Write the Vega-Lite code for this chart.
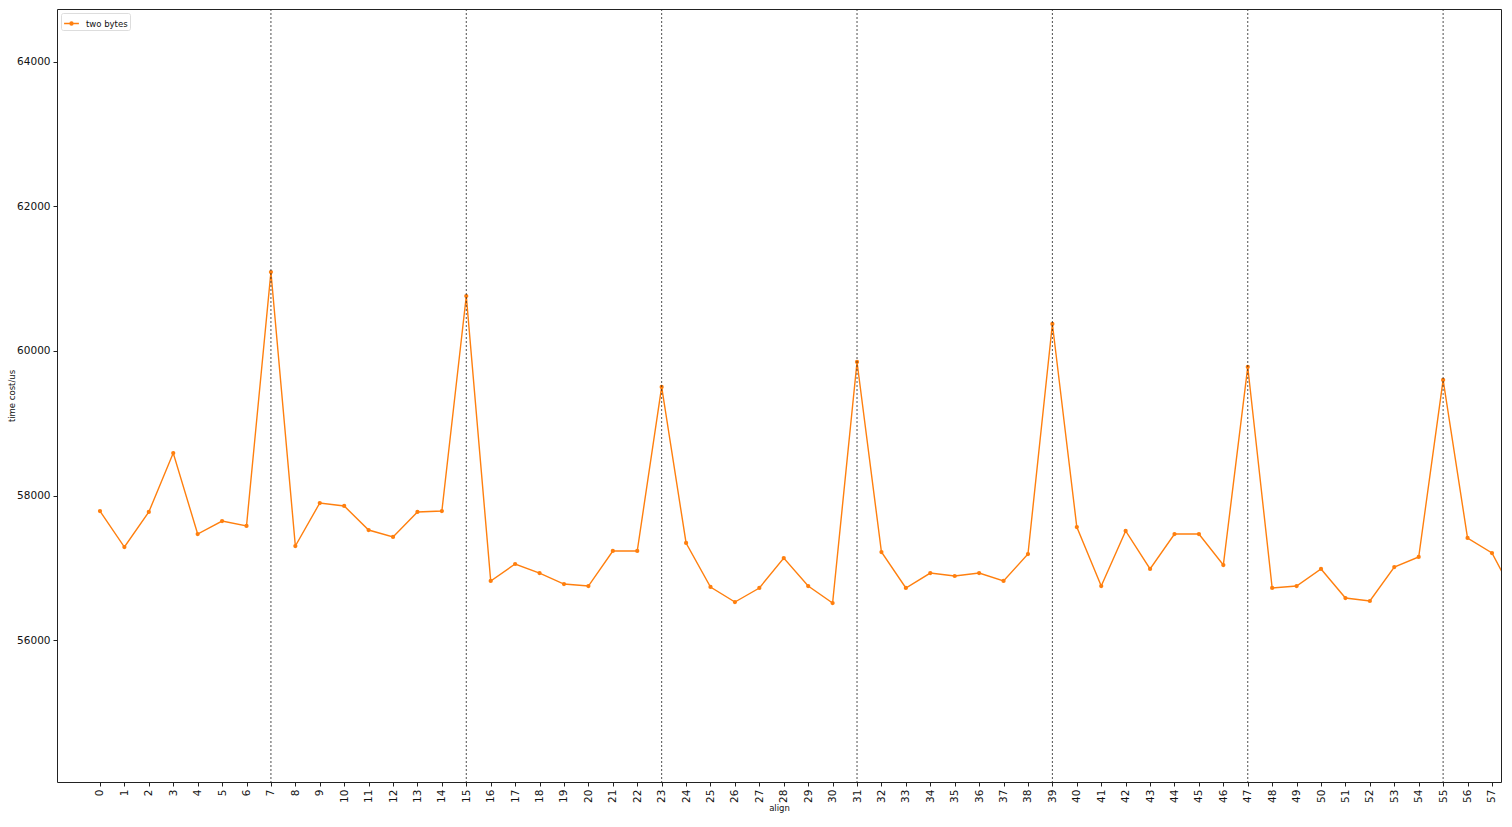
{
  "$schema": "https://vega.github.io/schema/vega-lite/v6.json",
  "width": 1444,
  "height": 773,
  "autosize": {"type": "none"},
  "padding": {"left": 57, "top": 9, "right": 11, "bottom": 45},
  "background": "white",
  "config": {
    "view": {"stroke": "#222", "strokeWidth": 1},
    "font": "DejaVu Sans",
    "axis": {"grid": false, "domain": false, "tickColor": "#222", "tickSize": 4, "labelColor": "#111", "titleColor": "#111", "labelFontSize": 10.5, "titleFontSize": 8.5, "titleFontWeight": "normal"}
  },
  "datasets": {
    "series": [
      {"align": 0, "cost": 57785, "s": "two bytes"},
      {"align": 1, "cost": 57287, "s": "two bytes"},
      {"align": 2, "cost": 57772, "s": "two bytes"},
      {"align": 3, "cost": 58588, "s": "two bytes"},
      {"align": 4, "cost": 57467, "s": "two bytes"},
      {"align": 5, "cost": 57647, "s": "two bytes"},
      {"align": 6, "cost": 57578, "s": "two bytes"},
      {"align": 7, "cost": 61093, "s": "two bytes"},
      {"align": 8, "cost": 57301, "s": "two bytes"},
      {"align": 9, "cost": 57896, "s": "two bytes"},
      {"align": 10, "cost": 57855, "s": "two bytes"},
      {"align": 11, "cost": 57522, "s": "two bytes"},
      {"align": 12, "cost": 57426, "s": "two bytes"},
      {"align": 13, "cost": 57772, "s": "two bytes"},
      {"align": 14, "cost": 57785, "s": "two bytes"},
      {"align": 15, "cost": 60761, "s": "two bytes"},
      {"align": 16, "cost": 56817, "s": "two bytes"},
      {"align": 17, "cost": 57052, "s": "two bytes"},
      {"align": 18, "cost": 56927, "s": "two bytes"},
      {"align": 19, "cost": 56775, "s": "two bytes"},
      {"align": 20, "cost": 56747, "s": "two bytes"},
      {"align": 21, "cost": 57232, "s": "two bytes"},
      {"align": 22, "cost": 57232, "s": "two bytes"},
      {"align": 23, "cost": 59502, "s": "two bytes"},
      {"align": 24, "cost": 57343, "s": "two bytes"},
      {"align": 25, "cost": 56734, "s": "two bytes"},
      {"align": 26, "cost": 56526, "s": "two bytes"},
      {"align": 27, "cost": 56720, "s": "two bytes"},
      {"align": 28, "cost": 57135, "s": "two bytes"},
      {"align": 29, "cost": 56747, "s": "two bytes"},
      {"align": 30, "cost": 56512, "s": "two bytes"},
      {"align": 31, "cost": 59848, "s": "two bytes"},
      {"align": 32, "cost": 57218, "s": "two bytes"},
      {"align": 33, "cost": 56720, "s": "two bytes"},
      {"align": 34, "cost": 56927, "s": "two bytes"},
      {"align": 35, "cost": 56886, "s": "two bytes"},
      {"align": 36, "cost": 56927, "s": "two bytes"},
      {"align": 37, "cost": 56817, "s": "two bytes"},
      {"align": 38, "cost": 57190, "s": "two bytes"},
      {"align": 39, "cost": 60374, "s": "two bytes"},
      {"align": 40, "cost": 57564, "s": "two bytes"},
      {"align": 41, "cost": 56747, "s": "two bytes"},
      {"align": 42, "cost": 57509, "s": "two bytes"},
      {"align": 43, "cost": 56983, "s": "two bytes"},
      {"align": 44, "cost": 57467, "s": "two bytes"},
      {"align": 45, "cost": 57467, "s": "two bytes"},
      {"align": 46, "cost": 57038, "s": "two bytes"},
      {"align": 47, "cost": 59779, "s": "two bytes"},
      {"align": 48, "cost": 56720, "s": "two bytes"},
      {"align": 49, "cost": 56747, "s": "two bytes"},
      {"align": 50, "cost": 56983, "s": "two bytes"},
      {"align": 51, "cost": 56581, "s": "two bytes"},
      {"align": 52, "cost": 56540, "s": "two bytes"},
      {"align": 53, "cost": 57010, "s": "two bytes"},
      {"align": 54, "cost": 57149, "s": "two bytes"},
      {"align": 55, "cost": 59599, "s": "two bytes"},
      {"align": 56, "cost": 57412, "s": "two bytes"},
      {"align": 57, "cost": 57204, "s": "two bytes"},
      {"align": 58, "cost": 56567, "s": "two bytes"}
    ],
    "marks": [
      {"align": 7}, {"align": 15}, {"align": 23}, {"align": 31}, {"align": 39}, {"align": 47}, {"align": 55}
    ]
  },
  "layer": [
    {
      "data": {"name": "series"},
      "mark": {"type": "line", "clip": true, "strokeWidth": 1.4, "point": {"filled": true, "size": 18}},
      "encoding": {
        "x": {"field": "align", "type": "quantitative", "title": "align",
          "scale": {"domain": [-1.76, 57.37], "nice": false, "zero": false},
          "axis": {"values": [0,1,2,3,4,5,6,7,8,9,10,11,12,13,14,15,16,17,18,19,20,21,22,23,24,25,26,27,28,29,30,31,32,33,34,35,36,37,38,39,40,41,42,43,44,45,46,47,48,49,50,51,52,53,54,55,56,57],
            "format": "d", "labelAngle": 270, "labelAlign": "right", "labelBaseline": "middle", "labelPadding": 3, "titlePadding": 1, "labelOverlap": false, "labelBound": false, "labelFlush": false}},
        "y": {"field": "cost", "type": "quantitative", "title": "time cost/us",
          "scale": {"domain": [54035, 64733], "nice": false, "zero": false},
          "axis": {"values": [56000, 58000, 60000, 62000, 64000], "format": "d", "labelPadding": 3, "titlePadding": 0}},
        "color": {"field": "s", "type": "nominal", "scale": {"range": ["#ff7f0e"]},
          "legend": {"title": null, "orient": "top-left", "offset": 4, "padding": 2, "strokeColor": "#ddd", "fillColor": "white", "cornerRadius": 2,
            "labelFontSize": 8.5, "labelColor": "#111", "labelOffset": 6, "symbolType": "M -1 0 L 1 0 M -0.2 0 A 0.2 0.2 0 1 1 0.2 0 A 0.2 0.2 0 1 1 -0.2 0",
            "symbolSize": 220, "symbolStrokeWidth": 1.4, "symbolFillColor": "#ff7f0e", "symbolStrokeColor": "#ff7f0e"}}
      }
    },
    {
      "data": {"name": "marks"},
      "mark": {"type": "rule", "color": "#222", "strokeWidth": 0.8, "strokeDash": [2, 2]},
      "encoding": {
        "x": {"field": "align", "type": "quantitative", "title": "align",
          "scale": {"domain": [-1.76, 57.37], "nice": false, "zero": false},
          "axis": {"values": [0,1,2,3,4,5,6,7,8,9,10,11,12,13,14,15,16,17,18,19,20,21,22,23,24,25,26,27,28,29,30,31,32,33,34,35,36,37,38,39,40,41,42,43,44,45,46,47,48,49,50,51,52,53,54,55,56,57],
            "format": "d", "labelAngle": 270, "labelAlign": "right", "labelBaseline": "middle", "labelPadding": 3, "titlePadding": 1, "labelOverlap": false, "labelBound": false, "labelFlush": false}}
      }
    }
  ]
}
